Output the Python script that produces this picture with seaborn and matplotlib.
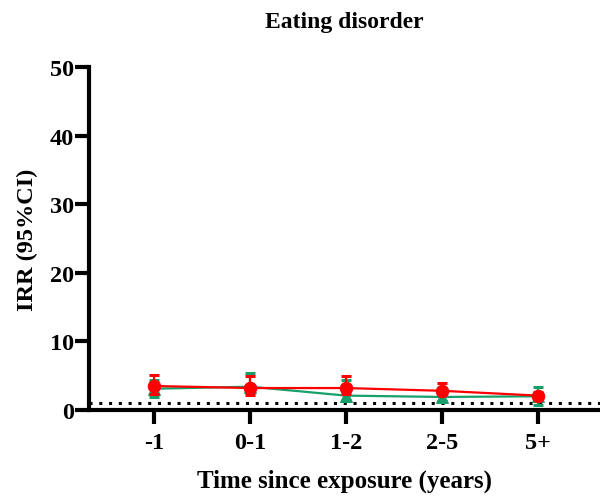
import numpy as np
import pandas as pd
import matplotlib
matplotlib.use("Agg")
import matplotlib.pyplot as plt
import seaborn as sns

categories = ["-1", "0-1", "1-2", "2-5", "5+"]
green_irr = [3.1, 3.4, 2.1, 1.9, 2.0]
green_lo = [1.9, 2.5, 1.5, 1.3, 0.8]
green_hi = [4.4, 5.4, 4.4, 2.8, 3.4]
red_irr = [3.5, 3.2, 3.2, 2.8, 2.1]
red_lo = [2.4, 2.2, 2.3, 2.3, 1.6]
red_hi = [5.1, 4.9, 4.9, 3.9, 2.6]
ref_value = 1
yticks = [0, 10, 20, 30, 40, 50]

sns.set_style("ticks")
plt.rcParams["font.family"] = ["Liberation Serif", "DejaVu Serif"]
plt.rcParams["font.weight"] = "bold"
for k in ["text.color", "axes.labelcolor", "xtick.color", "ytick.color", "axes.edgecolor"]:
    plt.rcParams[k] = "black"

fig = plt.figure(figsize=(6, 5.02), dpi=100)
ax = fig.add_axes([89/600, (502-411)/502, (600-89)/600, (411-68)/502])

pos = np.arange(len(categories))
df = pd.DataFrame({
    "pos": np.concatenate([pos, pos]),
    "irr": green_irr + red_irr,
    "group": ["green"] * len(pos) + ["red"] * len(pos),
})

GREEN = "#16a06a"
RED = "#ff0000"

ax.axhline(ref_value, color="black", linestyle=(0, (1, 2.2)), linewidth=2.2, zorder=1)

for irr, lo, hi, col, z in [(green_irr, green_lo, green_hi, GREEN, 2), (red_irr, red_lo, red_hi, RED, 4)]:
    irr = np.array(irr); lo = np.array(lo); hi = np.array(hi)
    ax.errorbar(pos, irr, yerr=[irr - lo, hi - irr], fmt="none", ecolor=col,
                elinewidth=1.6, capsize=3.8, capthick=2.2, zorder=z)

sns.lineplot(data=df[df.group == "green"], x="pos", y="irr", color=GREEN, marker="^",
             markersize=8, markeredgecolor=GREEN, linewidth=1.6, ax=ax, zorder=3)
sns.lineplot(data=df[df.group == "red"], x="pos", y="irr", color=RED, marker="o",
             markersize=9, markeredgecolor=RED, linewidth=1.6, ax=ax, zorder=5)

ax.set_xlim(-0.68, 4.65)
ax.set_ylim(0, 50)
ax.set_xticks(pos)
ax.set_xticklabels(categories)
ax.set_yticks(yticks)
for lab in ax.get_xticklabels() + ax.get_yticklabels():
    lab.set_fontsize(17.5)
    lab.set_fontweight("bold")
ax.tick_params(axis="x", length=10, width=3, pad=6)
ax.tick_params(axis="y", length=10, width=3, pad=1)
for s in ["left", "bottom"]:
    ax.spines[s].set_linewidth(3)
for s in ["top", "right"]:
    ax.spines[s].set_visible(False)

ax.set_xlabel("Time since exposure (years)", fontsize=18, fontweight="bold", labelpad=11)
ax.set_ylabel("IRR (95%CI)", fontsize=17.5, fontweight="bold", labelpad=8)
ax.set_title("Eating disorder", fontsize=17, fontweight="bold", pad=29)
ax.grid(False)

fig.savefig("out.png", dpi=100)
